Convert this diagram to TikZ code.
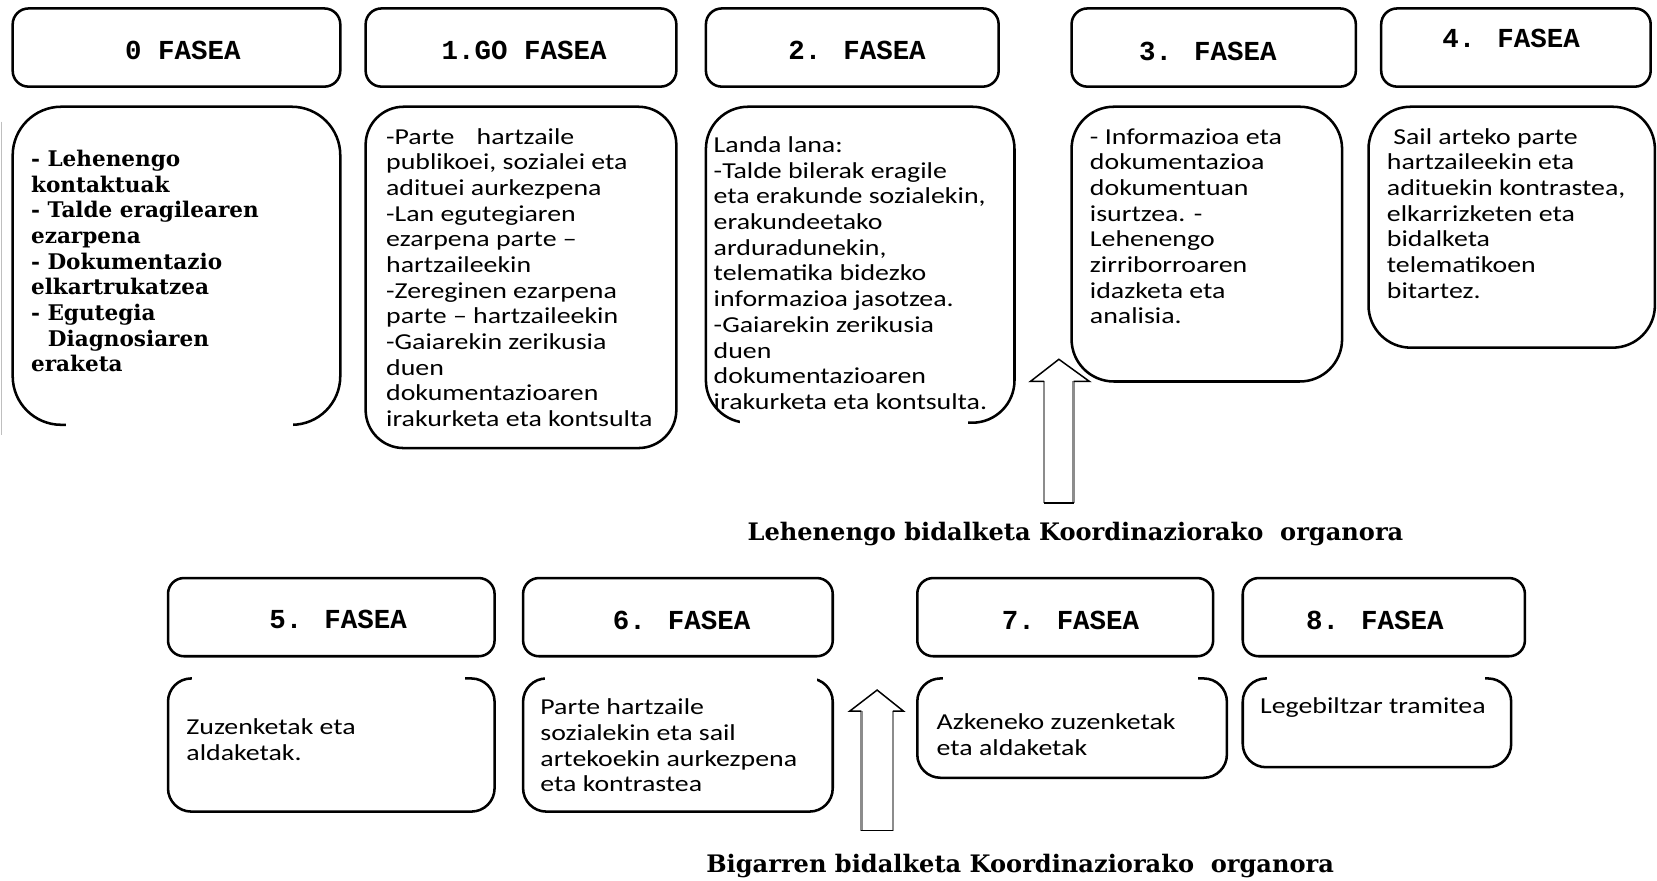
\documentclass[tikz,border=0pt]{standalone}
\usepackage{fontspec}
\setmainfont{Carlito}
\newfontfamily\bodyfont[FakeStretch=1.22]{Carlito}
\newfontfamily\headfont{Liberation Mono}
\newfontfamily\slabfont{DejaVu Serif}
\usetikzlibrary{fit}
\begin{document}
\begin{tikzpicture}[x=0.5pt,y=-0.5pt,
  hbox/.style={draw=black, line width=1.2pt, rounded corners=7.5pt, inner sep=0pt},
  cbox/.style={draw=black, line width=1.2pt, rounded corners=20pt, inner sep=0pt},
  sbox/.style={draw=black, line width=1.2pt, rounded corners=11pt, inner sep=0pt},
  htext/.style={font=\headfont\bfseries\fontsize{13pt}{15pt}\selectfont, anchor=base, inner sep=0pt},
  btext/.style={font=\bodyfont\fontsize{10.8pt}{12.15pt}\selectfont, align=left, anchor=north west, inner sep=0pt},
  ztext/.style={font=\slabfont\bfseries\fontsize{10.2pt}{12.15pt}\selectfont, align=left, anchor=north west, inner sep=0pt},
  ltext/.style={font=\slabfont\bfseries\fontsize{11.4pt}{14pt}\selectfont, anchor=base west, inner sep=0pt},
  gapline/.style={draw=white, line width=3pt},
  shaftline/.style={draw=black!45, line width=1.3pt},
  headline/.style={draw=black, line width=0.7pt, line join=miter}
]
\fill[white] (0,0) rectangle (1568,833);
\useasboundingbox (0,0) rectangle (1568,833);

% page edge line
\draw[black!25, line width=0.6pt] (1.5,115) -- (1.5,412);

% ---------- row 1 headers ----------
\node[hbox, fit={(12,8) (322,82)}] (h0) {};
\node[hbox, fit={(346,8) (640,82)}] (h1) {};
\node[hbox, fit={(668,8) (945,82)}] (h2) {};
\node[hbox, fit={(1014,8) (1283,82)}] (h3) {};
\node[hbox, fit={(1307,8) (1562,82)}] (h4) {};
\node[htext] (t0) at (173,56) {0 FASEA};
\node[htext] (t1) at (496,56) {1.GO FASEA};
\node[htext] (t2) at (811,56) {2. FASEA};
\node[htext] (t3) at (1143,57) {3. FASEA};
\node[htext] (t4) at (1430,45) {4. FASEA};

% ---------- row 1 contents ----------
\node[cbox, rounded corners=23pt, fit={(12,101) (322,402)}] (c0) {};
\node[cbox, rounded corners=18pt, fit={(346,101) (640,424)}] (c1) {};
\node[cbox, fit={(668,101) (960,400)}] (c2) {};
\node[cbox, fit={(1014,101) (1270,361)}] (c3) {};
\node[cbox, fit={(1295,101) (1566,329)}] (c4) {};
\draw[gapline] (62,402) -- (277,402);
\draw[gapline] (700,400) -- (916,400);

\node[ztext] (x0) at (29,137) {\rule{0pt}{10pt}- Lehenengo\\
kontaktuak\\
- Talde eragilearen\\
ezarpena\\
- Dokumentazio\\
elkartrukatzea\\
- Egutegia\\
\hspace*{8pt}Diagnosiaren\\
eraketa};

\node[btext] (x1) at (365,116) {\rule{0pt}{10pt}\makebox[89pt][l]{-Parte\hfill hartzaile}\\
publikoei, sozialei eta\\
adituei aurkezpena\\
-Lan egutegiaren\\
ezarpena parte –\\
hartzaileekin\\
-Zereginen ezarpena\\
parte – hartzaileekin\\
-Gaiarekin zerikusia\\
duen\\
dokumentazioaren\\
irakurketa eta kontsulta};

\node[btext] (x2) at (675,124) {\rule{0pt}{10pt}Landa lana:\\
-Talde bilerak eragile\\
eta erakunde sozialekin,\\
erakundeetako\\
arduradunekin,\\
telematika bidezko\\
informazioa jasotzea.\\
-Gaiarekin zerikusia\\
duen\\
dokumentazioaren\\
irakurketa eta kontsulta.};

\node[btext] (x3) at (1031,116) {\rule{0pt}{10pt}- Informazioa eta\\
dokumentazioa\\
dokumentuan\\
isurtzea. -\\
Lehenengo\\
zirriborroaren\\
idazketa eta\\
analisia.};

\node[btext] (x4) at (1312,116) {\rule{0pt}{10pt}\hspace*{3pt}Sail arteko parte\\
hartzaileekin eta\\
adituekin kontrastea,\\
elkarrizketen eta\\
bidalketa\\
telematikoen\\
bitartez.};

% ---------- arrow 1 ----------
\draw[shaftline] (988,361) -- (988,476);
\draw[shaftline] (1016,361) -- (1016,476);
\draw[headline] (988,361) -- (975,361) -- (1002,340) -- (1031,361) -- (1016,361);
\draw[headline] (988,476) -- (1016,476);
\node[ltext] (l1) at (707,511) {Lehenengo bidalketa Koordinaziorako\ \ organora};

% ---------- row 2 headers ----------
\node[hbox, fit={(159,547) (468,621)}] (h5) {};
\node[hbox, fit={(495,547) (788,621)}] (h6) {};
\node[hbox, fit={(868,547) (1148,621)}] (h7) {};
\node[hbox, fit={(1176,547) (1443,621)}] (h8) {};
\node[htext] (t5) at (320,595) {5. FASEA};
\node[htext] (t6) at (645,596) {6. FASEA};
\node[htext] (t7) at (1013,596) {7. FASEA};
\node[htext] (t8) at (1301,596) {8. FASEA};

% ---------- row 2 contents ----------
\node[sbox, fit={(159,642) (468,768)}] (c5) {};
\node[sbox, fit={(495,642) (788,768)}] (c6) {};
\node[sbox, fit={(868,642) (1161,736)}] (c7) {};
\node[sbox, fit={(1176,642) (1430,726)}] (c8) {};
\draw[gapline] (182,642) -- (440,642);
\draw[gapline] (516,642) -- (773,642);
\draw[gapline] (892,642) -- (1134,642);
\draw[gapline] (1199,642) -- (1405,642);

\node[btext] (x5) at (176,675) {\rule{0pt}{10pt}Zuzenketak eta\\
aldaketak.};
\node[btext] (x6) at (511,656) {\rule{0pt}{10pt}Parte hartzaile\\
sozialekin eta sail\\
artekoekin aurkezpena\\
eta kontrastea};
\node[btext] (x7) at (886,670) {\rule{0pt}{10pt}Azkeneko zuzenketak\\
eta aldaketak};
\node[btext] (x8) at (1192,655) {\rule{0pt}{10pt}Legebiltzar tramitea};

% ---------- arrow 2 ----------
\draw[shaftline] (815,673) -- (815,786);
\draw[shaftline] (845,673) -- (845,786);
\draw[headline] (815,673) -- (804,673) -- (830,653) -- (855,673) -- (845,673);
\draw[headline] (815,786) -- (845,786);
\node[ltext] (l2) at (668,826) {Bigarren bidalketa Koordinaziorako\ \ organora};
\end{tikzpicture}
\end{document}
